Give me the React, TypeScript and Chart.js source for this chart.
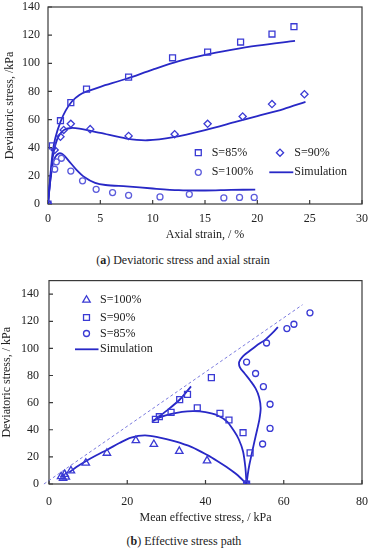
import React, { useEffect, useRef } from 'react';
import { Chart, registerables } from 'chart.js';

Chart.register(...registerables);

// ---------- Chart (a): deviatoric stress vs axial strain ----------
const strainS85 = [0, 0.42, 1.19, 2.18, 3.68, 7.7, 11.9, 15.25, 18.4, 21.4, 23.5];
const qS85a = [0, 41.3, 59.2, 72, 81.6, 90.2, 103.9, 108, 115.1, 120.8, 126];
const strainS90 = [0, 0.64, 1.19, 1.5, 2.18, 4.03, 7.7, 12.1, 15.25, 18.6, 21.4, 24.5];
const qS90a = [0, 38.4, 47.8, 52.6, 57, 53.2, 48.4, 49.6, 57, 62.2, 71, 78];
const strainS100 = [0, 0.64, 0.8, 1.28, 2.18, 3.3, 4.6, 6.17, 7.7, 10.7, 13.5, 16.8, 18.3, 19.7];
const qS100a = [0, 24.7, 30, 32.5, 23.4, 16.5, 10.4, 8.1, 6.2, 5, 6.9, 4.3, 4.7, 4.7];

const simStrain85 = [0, 0.2, 0.45, 0.7, 1.2, 1.7, 2.3, 3, 3.7, 5, 7.5, 10, 12.5, 15, 17.5, 20, 23.6];
const simQ85 = [0, 18, 37, 47, 58.5, 66.5, 73, 77.5, 80, 83.3, 89, 95.5, 101.5, 106, 109.5, 112.5, 116];
const simStrain90 = [0, 0.2, 0.45, 0.7, 1.0, 1.5, 2.2, 3, 5, 7.5, 9.5, 12, 15, 18, 20, 22.5, 24.6];
const simQ90 = [0, 16, 33, 42, 48, 52.5, 54, 53.5, 50.5, 46.5, 45.3, 47.5, 52.5, 58.5, 62.5, 67.5, 72.5];
const simStrain100 = [0, 0.2, 0.45, 0.7, 1.0, 1.3, 1.6, 2, 2.7, 3.5, 4.5, 5.5, 7.5, 10, 12.5, 15, 17.5, 19.8];
const simQ100 = [0, 15, 28, 33.5, 35.8, 35.8, 34, 30.5, 24.5, 19, 15, 13.5, 12.5, 11, 9.8, 9.6, 10, 10.2];

const xTicksA = { min: 0, max: 30, step: 5 };
const yTicksA = { min: 0, max: 140, step: 20 };

// ---------- Chart (b): effective stress path ----------
const pS100 = [3.1, 3.6, 4.0, 4.3, 5.6, 9.4, 14.8, 22.2, 26.8, 33.3, 40.4, 50.5];
const qS100b = [5.5, 4.2, 7.2, 5.2, 9.8, 15.5, 22.8, 32.1, 29.3, 24.2, 17.2, 0];
const pS90 = [50.5, 51.4, 49.6, 46, 43.7, 37.9, 31.2, 28.2, 27.2, 33.4, 35.4, 41.5];
const qS90b = [0, 23, 37.8, 47.2, 52.1, 56.2, 52.8, 49.6, 47.7, 62.2, 66.1, 78.4];
const pS85 = [50.5, 54.6, 56.5, 56.5, 54.8, 52.8, 50.5, 55.6, 60.8, 62.6, 66.7];
const qS85b = [0, 29.5, 41, 58.8, 71.8, 81.5, 89.9, 104, 114.6, 117.8, 126.2];

const simP100 = [50.5, 48, 45.5, 43, 40.5, 36.5, 32, 28, 24.5, 21, 18, 15, 12, 9.5, 7, 5.2];
const simQ100b = [0, 7, 12.3, 17, 21.3, 27.2, 31.6, 34.4, 35.8, 34.2, 30.2, 25.5, 21, 17, 12.5, 8.6];
const simP90 = [50.5, 50.2, 49.6, 48.5, 47.3, 45.6, 43, 40, 37, 34, 31, 28.5, 26.5, 28, 30.5, 33.5, 36.3];
const simQ90b = [0, 12, 24, 33, 39, 45.8, 50.7, 53, 53.7, 53.2, 51.5, 49.3, 46.3, 49.5, 55, 62.5, 72];
const simP85 = [50.5, 50.8, 51.2, 51.8, 52.4, 53.2, 53.8, 54.1, 53.7, 52.8, 51.5, 50, 48.8, 48.6, 49.5, 51, 53, 55.3, 57, 58.5];
const simQ85b = [0, 7, 14, 22, 30, 40, 48, 56, 64, 70.5, 76, 81.5, 86, 90, 94, 97.5, 102, 106.5, 111, 115.7];
const cslP = [-1.3, 64.8];
const cslQ = [0, 132.2];

const xTicksB = { min: 0, max: 80, step: 20 };
const yTicksB = { min: 0, max: 150, step: 20 };

// ---------- styles ----------
const FONT_FAMILY = '"Liberation Serif", "Times New Roman", serif';
const TEXT = '#222222';
const MARK = '#3a3ad4';
const MARK_LIGHT = '#5c5cdc';
const LINE = '#2828c6';
const DASH = '#7b7bde';
const FRAME = '#3a3a3a';

const pts = (xs: number[], ys: number[]) => xs.map((x, i) => ({ x, y: ys[i] }));

function drawMarker(ctx: CanvasRenderingContext2D, style: string, x: number, y: number, r: number) {
  ctx.beginPath();
  if (style === 'rect') {
    const s = Math.SQRT1_2 * r;
    ctx.rect(x - s, y - s, 2 * s, 2 * s);
  } else if (style === 'rectRot') {
    ctx.moveTo(x - r, y);
    ctx.lineTo(x, y - r);
    ctx.lineTo(x + r, y);
    ctx.lineTo(x, y + r);
    ctx.closePath();
  } else if (style === 'triangle') {
    for (let k = 0; k < 3; k++) {
      const a = (k * 2 * Math.PI) / 3;
      const px = x + Math.sin(a) * r;
      const py = y - Math.cos(a) * r;
      if (k === 0) ctx.moveTo(px, py);
      else ctx.lineTo(px, py);
    }
    ctx.closePath();
  } else {
    ctx.arc(x, y, r, 0, Math.PI * 2);
  }
  ctx.stroke();
}

const framePlugin = {
  id: 'frameTicks',
  beforeDatasetsDraw(chart: any) {
    const { ctx, chartArea: a, scales } = chart;
    ctx.save();
    ctx.strokeStyle = FRAME;
    ctx.lineWidth = 1.2;
    ctx.strokeRect(a.left, a.top, a.right - a.left, a.bottom - a.top);
    ctx.beginPath();
    scales.x.ticks.forEach((t: any) => {
      const px = scales.x.getPixelForValue(t.value);
      ctx.moveTo(px, a.bottom);
      ctx.lineTo(px, a.bottom - 4);
    });
    scales.y.ticks.forEach((t: any) => {
      const py = scales.y.getPixelForValue(t.value);
      ctx.moveTo(a.left, py);
      ctx.lineTo(a.left + 4, py);
    });
    ctx.stroke();
    ctx.restore();
  },
};

type LegendItem = { ds: number; mx: number; my: number; tx: number; line?: [number, number] };

function makeLegendPlugin(items: LegendItem[]) {
  return {
    id: 'innerLegend',
    afterDraw(chart: any) {
      const ctx: CanvasRenderingContext2D = chart.ctx;
      ctx.save();
      items.forEach((it) => {
        const ds = chart.data.datasets[it.ds];
        ctx.strokeStyle = ds.borderColor;
        ctx.lineWidth = ds.borderWidth;
        ctx.setLineDash([]);
        if (it.line) {
          ctx.beginPath();
          ctx.moveTo(it.line[0], it.my);
          ctx.lineTo(it.line[1], it.my);
          ctx.stroke();
        } else {
          drawMarker(ctx, ds.pointStyle, it.mx, it.my, ds.pointRadius);
        }
        ctx.fillStyle = TEXT;
        ctx.font = `12px ${FONT_FAMILY}`;
        ctx.textBaseline = 'middle';
        ctx.textAlign = 'left';
        ctx.fillText(ds.label, it.tx, it.my);
      });
      ctx.restore();
    },
  };
}

const font = { family: FONT_FAMILY, size: 12 };

function markerDs(label: string, data: any[], style: string, radius: number, color: string) {
  return {
    label,
    data,
    pointStyle: style,
    pointRadius: radius,
    pointHoverRadius: radius,
    borderColor: color,
    pointBorderColor: color,
    backgroundColor: 'rgba(0,0,0,0)',
    pointBackgroundColor: 'rgba(0,0,0,0)',
    borderWidth: 1.3,
    pointBorderWidth: 1.3,
    showLine: false,
  };
}

function lineDs(label: string, data: any[], tension = 0.3) {
  return {
    label,
    data,
    showLine: true,
    pointRadius: 0,
    borderColor: LINE,
    backgroundColor: LINE,
    borderWidth: 1.8,
    tension,
    fill: false,
  };
}

function axes(
  xr: { min: number; max: number; step: number },
  yr: { min: number; max: number; step: number },
  xTitle: string,
  yTitle: string,
  o: { yWidth: number; xHeight: number; xPad: number; yPad: number; xTitleBottom: number; yTitleTop: number }
) {
  return {
    x: {
      type: 'linear',
      min: xr.min,
      max: xr.max,
      ticks: { stepSize: xr.step, padding: o.xPad, font, color: TEXT, maxRotation: 0, includeBounds: false },
      grid: { display: false, drawTicks: false },
      border: { display: false },
      title: { display: true, text: xTitle, font, color: TEXT, padding: { top: 0, bottom: o.xTitleBottom } },
      afterFit: (s: any) => {
        s.height = o.xHeight;
        s.paddingLeft = 0;
        s.paddingRight = 0;
      },
    },
    y: {
      type: 'linear',
      min: yr.min,
      max: yr.max,
      ticks: { stepSize: yr.step, padding: o.yPad, font, color: TEXT, includeBounds: false },
      grid: { display: false, drawTicks: false },
      border: { display: false },
      title: { display: true, text: yTitle, font, color: TEXT, padding: { top: o.yTitleTop, bottom: 0 } },
      afterFit: (s: any) => {
        s.width = o.yWidth;
        s.paddingTop = 0;
        s.paddingBottom = 0;
      },
    },
  };
}

export default function App() {
  const refA = useRef<HTMLCanvasElement | null>(null);
  const refB = useRef<HTMLCanvasElement | null>(null);

  useEffect(() => {
    const chartA = new Chart(refA.current as HTMLCanvasElement, {
      type: 'scatter',
      data: {
        datasets: [
          markerDs('S=85%', pts(strainS85, qS85a), 'rect', 4.2, MARK),
          markerDs('S=90%', pts(strainS90, qS90a), 'rectRot', 3.6, MARK),
          markerDs('S=100%', pts(strainS100, qS100a), 'circle', 3, MARK_LIGHT),
          lineDs('Simulation', pts(simStrain85, simQ85)),
          lineDs('Simulation', pts(simStrain90, simQ90)),
          lineDs('Simulation', pts(simStrain100, simQ100)),
        ] as any,
      },
      options: {
        responsive: false,
        animation: false,
        devicePixelRatio: 1,
        layout: { padding: { top: 7, right: 11, left: 0, bottom: 0 } },
        plugins: { legend: { display: false }, tooltip: { enabled: false } },
        scales: axes(xTicksA, yTicksA, 'Axial strain, / %', 'Deviatoric stress, /kPa', {
          yWidth: 48,
          xHeight: 44,
          xPad: 8,
          yPad: 8,
          xTitleBottom: 6,
          yTitleTop: 3,
        }) as any,
      },
      plugins: [
        framePlugin,
        makeLegendPlugin([
          { ds: 0, mx: 198.3, my: 152.7, tx: 211.7 },
          { ds: 1, mx: 280, my: 152.7, tx: 294.3 },
          { ds: 2, mx: 198.3, my: 172.3, tx: 211.7 },
          { ds: 3, mx: 0, my: 172.3, tx: 294.3, line: [269.3, 293.3] },
        ]),
      ],
    });

    const chartB = new Chart(refB.current as HTMLCanvasElement, {
      type: 'scatter',
      data: {
        datasets: [
          markerDs('S=100%', pts(pS100, qS100b), 'triangle', 4.3, MARK),
          markerDs('S=90%', pts(pS90, qS90b), 'rect', 4.2, MARK),
          markerDs('S=85%', pts(pS85, qS85b), 'circle', 3, MARK),
          lineDs('Simulation', pts(simP100, simQ100b)),
          lineDs('Simulation', pts(simP90, simQ90b), 0.2),
          lineDs('Simulation', pts(simP85, simQ85b)),
          {
            label: 'CSL',
            data: pts(cslP, cslQ),
            showLine: true,
            pointRadius: 0,
            borderColor: DASH,
            borderWidth: 1,
            borderDash: [3, 2.5],
            tension: 0,
            clip: false,
          },
        ] as any,
      },
      options: {
        responsive: false,
        animation: false,
        devicePixelRatio: 1,
        layout: { padding: { top: 5, right: 11, left: 0, bottom: 0 } },
        plugins: { legend: { display: false }, tooltip: { enabled: false } },
        scales: axes(xTicksB, yTicksB, 'Mean effective stress, / kPa', 'Deviatoric stress, / kPa', {
          yWidth: 49,
          xHeight: 46,
          xPad: 10.5,
          yPad: 10,
          xTitleBottom: 5.3,
          yTitleTop: 0,
        }) as any,
      },
      plugins: [
        framePlugin,
        makeLegendPlugin([
          { ds: 0, mx: 86.5, my: 25, tx: 100 },
          { ds: 1, mx: 86.5, my: 42.5, tx: 100 },
          { ds: 2, mx: 86.5, my: 58.5, tx: 100 },
          { ds: 3, mx: 0, my: 74.3, tx: 100, line: [75, 98.5] },
        ]),
      ],
    });

    return () => {
      chartA.destroy();
      chartB.destroy();
    };
  }, []);

  const captionStyle: React.CSSProperties = {
    position: 'absolute',
    left: 0,
    fontFamily: FONT_FAMILY,
    fontSize: 12,
    lineHeight: '15px',
    color: TEXT,
    textAlign: 'center',
    whiteSpace: 'nowrap',
  };

  return (
    <div style={{ position: 'absolute', top: 0, left: 0, width: 373, height: 550, background: '#fff' }}>
      <canvas ref={refA} width={373} height={248} style={{ position: 'absolute', top: 0, left: 0, width: 373, height: 248 }} />
      <div style={{ ...captionStyle, top: 253, width: 366 }}>
        (<b>a</b>) Deviatoric stress and axial strain
      </div>
      <canvas ref={refB} width={373} height={255} style={{ position: 'absolute', top: 275, left: 0, width: 373, height: 255 }} />
      <div style={{ ...captionStyle, top: 534, width: 368 }}>
        (<b>b</b>) Effective stress path
      </div>
    </div>
  );
}
